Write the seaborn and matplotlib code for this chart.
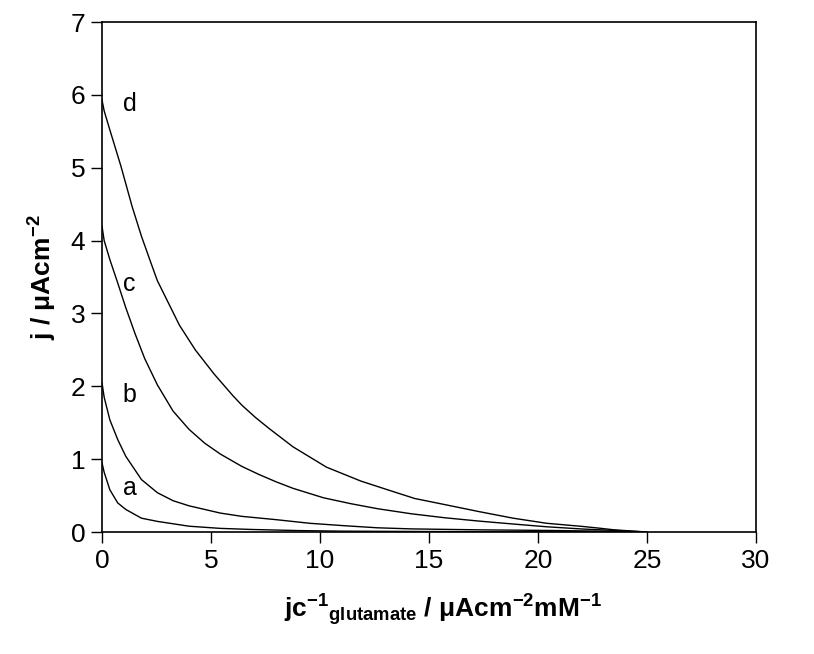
import matplotlib
matplotlib.use('Agg')
import matplotlib.pyplot as plt
import seaborn as sns
import pandas as pd

# values (x = jc^-1, y = j)
x_a = [0, 0.1, 0.36, 0.72, 1.09, 1.81, 2.54, 3.99, 5.43, 6.88, 9.0, 11.0, 14.0, 18.0, 22.0, 25.0]
y_a = [0.95, 0.82, 0.58, 0.40, 0.31, 0.19, 0.146, 0.08, 0.05, 0.035, 0.02, 0.012, 0.008, 0.004, 0.002, 0.0]

x_b = [0, 0.1, 0.36, 0.72, 1.09, 1.81, 2.54, 3.26, 3.99, 5.43, 6.42, 7.98, 9.53, 11.1, 12.64,
       14.2, 17.3, 20.4, 23.5, 25.0]
y_b = [2.05, 1.85, 1.54, 1.27, 1.04, 0.72, 0.54, 0.43, 0.36, 0.26, 0.215, 0.17, 0.12, 0.087, 0.058,
       0.043, 0.03, 0.022, 0.01, 0.0]

x_c = [0, 0.1, 0.36, 0.72, 1.09, 1.52, 1.96, 2.54, 3.26, 3.99, 4.71, 5.43, 6.42, 7.2, 7.98, 8.76,
       10.16, 11.4, 12.64, 14.2, 15.75, 17.3, 18.86, 20.4, 22.0, 23.5, 25.0]
y_c = [4.2, 4.0, 3.74, 3.42, 3.08, 2.72, 2.38, 2.02, 1.66, 1.41, 1.22, 1.07, 0.90, 0.79, 0.69, 0.60,
       0.47, 0.39, 0.32, 0.25, 0.195, 0.15, 0.11, 0.072, 0.042, 0.022, 0.0]

x_d = [0, 0.1, 0.36, 0.87, 1.38, 1.81, 2.25, 2.54, 3.12, 3.55, 4.28, 5.14, 6.01, 6.42, 7.05, 7.67,
       8.76, 10.3, 11.87, 13.1, 14.35, 15.75, 17.3, 18.86, 20.4, 22.0, 22.75, 23.5, 25.0]
y_d = [5.93, 5.78, 5.52, 5.02, 4.47, 4.06, 3.69, 3.45, 3.10, 2.84, 2.50, 2.17, 1.87, 1.74, 1.57, 1.42,
       1.17, 0.89, 0.70, 0.58, 0.46, 0.375, 0.28, 0.19, 0.12, 0.078, 0.055, 0.03, 0.0]

curve_names = ['a', 'b', 'c', 'd']
label_x = 1.26
label_y = [0.6, 1.88, 3.4, 5.87]

frames = []
for name, xs, ys in zip(curve_names, [x_a, x_b, x_c, x_d], [y_a, y_b, y_c, y_d]):
    frames.append(pd.DataFrame({'x': xs, 'y': ys, 'curve': name}))
df = pd.concat(frames, ignore_index=True)

sns.set_style("white")
plt.rcParams['font.family'] = ['Liberation Sans', 'DejaVu Sans']
plt.rcParams['text.color'] = 'black'
plt.rcParams['axes.labelcolor'] = 'black'
plt.rcParams['xtick.color'] = 'black'
plt.rcParams['ytick.color'] = 'black'
plt.rcParams['mathtext.fontset'] = 'custom'
plt.rcParams['mathtext.rm'] = 'Liberation Sans:bold'
plt.rcParams['mathtext.it'] = 'Liberation Sans:bold'
plt.rcParams['mathtext.bf'] = 'Liberation Sans:bold'

fig = plt.figure(figsize=(8.14, 6.54), dpi=100)
ax = fig.add_axes([0.1253, 0.1865, 0.8034, 0.7798])

sns.lineplot(data=df, x='x', y='y', units='curve', estimator=None, sort=False,
             color='black', linewidth=1.0, ax=ax)

for name, ly in zip(curve_names, label_y):
    ax.text(label_x, ly, name, fontsize=18, ha='center', va='center', color='black')

ax.set_xlim(0, 30)
ax.set_ylim(0, 7)
ax.set_xticks(range(0, 31, 5))
ax.set_yticks(range(0, 8))
ax.tick_params(axis='both', which='major', labelsize=19, direction='out', length=8,
               width=1, colors='black', bottom=True, left=True, top=False, right=False,
               pad=4)
for s in ax.spines.values():
    s.set_color('black')
    s.set_linewidth(1.2)

ax.set_xlabel(r'jc$^{-1}$$_{glutamate}$ / μAcm$^{-2}$mM$^{-1}$', fontsize=19,
              fontweight='bold')
ax.set_ylabel(r'j / μAcm$^{-2}$', fontsize=19, fontweight='bold', labelpad=8)
ax.xaxis.set_label_coords(0.522, -0.118)

fig.savefig('out.png', dpi=100)
